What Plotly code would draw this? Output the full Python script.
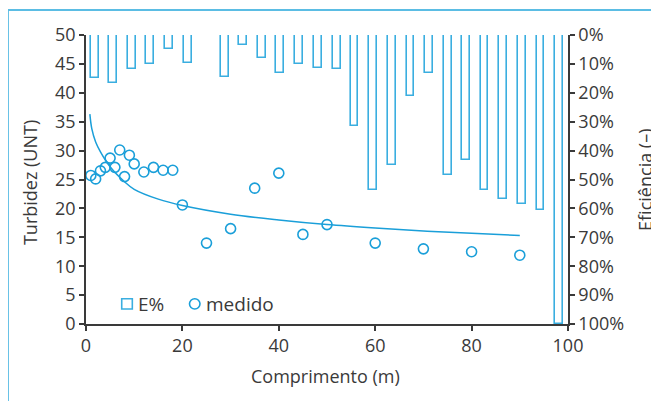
import plotly.graph_objects as go

# ---- data ----
bar_pos = [1.8, 5.6, 9.5, 13.3, 17.2, 21.1, 25.0, 28.9, 32.6, 36.5, 40.3, 44.2, 48.1,
           52.0, 55.7, 59.6, 63.5, 67.3, 71.2, 75.1, 78.9, 82.7, 86.5, 90.4, 94.3, 98.2]
eff_pct = [15.0, 16.7, 11.6, 10.0, 4.8, 9.8, None, 14.6, 3.3, 8.1, 13.2, 10.0, 11.5,
           11.6, 31.5, 53.6, 44.9, 21.2, 13.1, 48.3, 43.2, 53.6, 56.7, 58.6, 60.5, 100.0]

meas_x = [1, 2, 3, 4, 5, 6, 7, 8, 9, 10, 12, 14, 16, 18, 20, 25, 30, 35, 40, 45, 50,
          60, 70, 80, 90]
meas_y = [25.7, 25.1, 26.5, 27.1, 28.7, 27.1, 30.1, 25.5, 29.2, 27.7, 26.3, 27.1, 26.6,
          26.6, 20.6, 14.0, 16.5, 23.5, 26.1, 15.5, 17.2, 14.0, 13.0, 12.5, 11.9]

fit_x = [0.8, 1.2, 2, 3, 5, 8, 10, 15, 20, 30, 40, 50, 60, 70, 80, 90]
fit_y = [36.3, 33.8, 31.5, 29.8, 27.2, 24.6, 23.3, 21.6, 20.5, 19.0, 18.0, 17.2, 16.6,
         16.1, 15.7, 15.3]

x_ticks = [0, 20, 40, 60, 80, 100]
y_ticks = [0, 5, 10, 15, 20, 25, 30, 35, 40, 45, 50]
y2_ticks = [0, 10, 20, 30, 40, 50, 60, 70, 80, 90, 100]
y2_labels = [f"{v}%" for v in y2_ticks]

# ---- styles ----
BLUE = "#1a9fd9"
BAR_BLUE = "#3aaee0"
FRAME = "#5bbde4"
TXT = "#3a3a3a"
FONT = "Open Sans"

fig = go.Figure()

fig.add_trace(go.Bar(
    x=bar_pos, y=eff_pct, width=1.6, yaxis="y2", name="E%", showlegend=False,
    marker=dict(color="white", line=dict(color=BAR_BLUE, width=1.6)),
))

fig.add_trace(go.Scatter(
    x=fit_x, y=fit_y, mode="lines", line=dict(color=BLUE, width=1.5, shape="spline"),
    showlegend=False, hoverinfo="skip",
))

fig.add_trace(go.Scatter(
    x=meas_x, y=meas_y, mode="markers", name="medido", showlegend=False,
    marker=dict(symbol="circle-open", size=10, color=BLUE, line=dict(width=1.6)),
))

axis_common = dict(
    showgrid=False, zeroline=False, showline=True, linecolor=TXT, linewidth=1.5,
    ticks="outside", ticklen=5, tickcolor=TXT, tickwidth=1.5, automargin=False,
    tickfont=dict(family=FONT, size=18, color=TXT),
)

title_font = dict(family=FONT, size=18, color=TXT)
leg_font = dict(family=FONT, size=19, color=TXT)

# page body has an 8px margin; figure is laid out so the plot area lands at
# screen x 86..568, y 35..324
fig.update_layout(
    width=659, height=393,
    margin=dict(l=78, r=99, t=27, b=77),
    paper_bgcolor="white", plot_bgcolor="white",
    font=dict(family=FONT, color=TXT),
    bargap=0,
    xaxis=dict(range=[0, 100], tickvals=x_ticks, **axis_common),
    yaxis=dict(range=[0, 50], tickvals=y_ticks, **axis_common),
    yaxis2=dict(range=[100, 0], tickvals=y2_ticks, ticktext=y2_labels, tickmode="array",
                overlaying="y", side="right", anchor="x", **axis_common),
    annotations=[
        dict(text="Comprimento (m)", xref="paper", yref="paper", x=0.496, y=-0.179,
             xanchor="center", yanchor="middle", showarrow=False, font=title_font),
        dict(text="Turbidez (UNT)", xref="paper", yref="paper", x=-0.116, y=0.488,
             xanchor="center", yanchor="middle", showarrow=False, textangle=-90, font=title_font),
        dict(text="Eficiência (–)", xref="paper", yref="paper", x=1.160, y=0.499,
             xanchor="center", yanchor="middle", showarrow=False, textangle=-90, font=title_font),
        dict(text="E%", xref="paper", yref="paper", x=0.1037, y=0.0702,
             xanchor="left", yanchor="middle", showarrow=False, font=leg_font),
        dict(text="medido", xref="paper", yref="paper", x=0.2448, y=0.0702,
             xanchor="left", yanchor="middle", showarrow=False, font=leg_font),
    ],
    shapes=[
        dict(type="line", xref="paper", yref="paper", x0=-0.162, x1=1.25, y0=1.0865, y1=1.0865,
             line=dict(color=FRAME, width=2)),
        dict(type="line", xref="paper", yref="paper", x0=-0.162, x1=-0.162, y0=1.0865, y1=-0.3,
             line=dict(color=FRAME, width=2)),
        # legend symbols
        dict(type="rect", xref="paper", yref="paper", x0=0.0741, x1=0.0961, y0=0.0518, y1=0.0875,
             line=dict(color=BAR_BLUE, width=1.6), fillcolor="white"),
        dict(type="circle", xref="paper", yref="paper", x0=0.2147, x1=0.2365, y0=0.0518, y1=0.0875,
             line=dict(color=BLUE, width=1.6), fillcolor="white"),
    ],
)

fig.write_html("out.html")
